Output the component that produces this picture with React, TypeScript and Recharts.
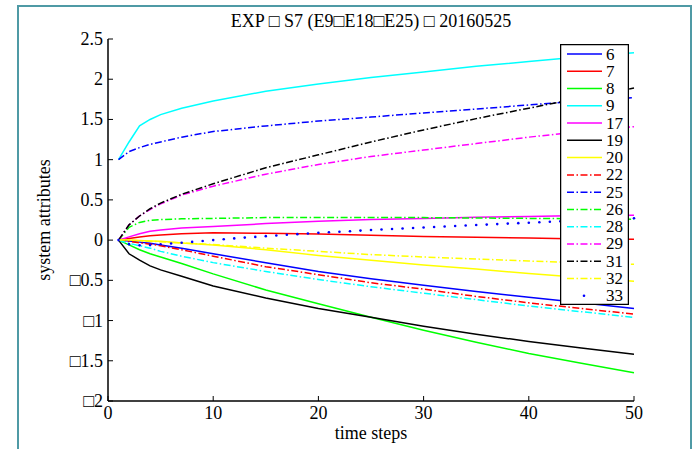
import { LineChart, Line, XAxis, YAxis, Legend } from "recharts";

const steps = [1, 2, 3, 4, 5, 7, 10, 15, 20, 25, 30, 35, 40, 45, 50];

const s6 = [0, -0.01, -0.025, -0.04, -0.06, -0.1, -0.17, -0.28, -0.39, -0.48, -0.56, -0.64, -0.71, -0.78, -0.85];
const s7 = [0, 0.02, 0.04, 0.055, 0.065, 0.08, 0.09, 0.085, 0.075, 0.06, 0.045, 0.035, 0.025, 0.015, 0.01];
const s8 = [0, -0.06, -0.12, -0.17, -0.21, -0.29, -0.42, -0.62, -0.79, -0.96, -1.12, -1.27, -1.41, -1.53, -1.65];
const s9 = [1.0, 1.22, 1.42, 1.5, 1.56, 1.64, 1.73, 1.85, 1.94, 2.02, 2.09, 2.16, 2.22, 2.28, 2.33];
const s17 = [0, 0.04, 0.08, 0.11, 0.125, 0.15, 0.17, 0.205, 0.235, 0.255, 0.27, 0.285, 0.295, 0.305, 0.31];
const s19 = [0, -0.17, -0.25, -0.32, -0.37, -0.45, -0.57, -0.72, -0.85, -0.96, -1.07, -1.17, -1.26, -1.34, -1.42];
const s20 = [0, 0, -0.005, -0.01, -0.015, -0.035, -0.06, -0.12, -0.19, -0.25, -0.31, -0.36, -0.415, -0.465, -0.51];
const s22 = [0, -0.015, -0.035, -0.05, -0.07, -0.12, -0.2, -0.33, -0.43, -0.53, -0.61, -0.7, -0.78, -0.85, -0.92];
const s25 = [1.0, 1.1, 1.15, 1.19, 1.22, 1.28, 1.35, 1.42, 1.48, 1.53, 1.58, 1.63, 1.68, 1.73, 1.77];
const s26 = [0, 0.16, 0.22, 0.245, 0.255, 0.265, 0.27, 0.28, 0.28, 0.28, 0.28, 0.275, 0.27, 0.265, 0.26];
const s28 = [0, -0.04, -0.07, -0.1, -0.14, -0.2, -0.28, -0.39, -0.49, -0.58, -0.66, -0.74, -0.82, -0.89, -0.96];
const s29 = [0, 0.19, 0.3, 0.38, 0.45, 0.56, 0.67, 0.82, 0.94, 1.04, 1.12, 1.2, 1.28, 1.35, 1.41];
const s31 = [0, 0.19, 0.3, 0.39, 0.46, 0.57, 0.7, 0.9, 1.06, 1.22, 1.37, 1.51, 1.64, 1.77, 1.89];
const s32 = [0, 0, -0.01, -0.015, -0.02, -0.035, -0.055, -0.1, -0.14, -0.18, -0.21, -0.235, -0.26, -0.28, -0.3];

// series 33 is plotted as dots at every step
const steps33 = Array.from({ length: 50 }, (_, i) => i + 1);
const s33 = [
  0, -0.05, -0.065, -0.062, -0.052, -0.042, -0.032, -0.022, -0.011, 0,
  0.011, 0.021, 0.031, 0.04, 0.049, 0.058, 0.066, 0.074, 0.082, 0.09,
  0.097, 0.104, 0.111, 0.118, 0.125, 0.131, 0.138, 0.144, 0.151, 0.157,
  0.163, 0.169, 0.175, 0.181, 0.187, 0.193, 0.199, 0.205, 0.211, 0.216,
  0.222, 0.228, 0.233, 0.239, 0.244, 0.25, 0.255, 0.26, 0.266, 0.271,
];

const xTicks = [0, 10, 20, 30, 40, 50];
const yTicks = [-2, -1.5, -1, -0.5, 0, 0.5, 1, 1.5, 2, 2.5];

const title = "EXP \u25A1 S7 (E9\u25A1E18\u25A1E25) \u25A1 20160525";

const DASHDOT = "7 2.5 1.5 2.5";

const series = [
  { key: "s6", name: "6", values: s6, color: "#0000FF", dash: undefined },
  { key: "s7", name: "7", values: s7, color: "#FF0000", dash: undefined },
  { key: "s8", name: "8", values: s8, color: "#00FF00", dash: undefined },
  { key: "s9", name: "9", values: s9, color: "#00FFFF", dash: undefined },
  { key: "s17", name: "17", values: s17, color: "#FF00FF", dash: undefined },
  { key: "s19", name: "19", values: s19, color: "#000000", dash: undefined },
  { key: "s20", name: "20", values: s20, color: "#FFFF00", dash: undefined },
  { key: "s22", name: "22", values: s22, color: "#FF0000", dash: DASHDOT },
  { key: "s25", name: "25", values: s25, color: "#0000FF", dash: DASHDOT },
  { key: "s26", name: "26", values: s26, color: "#00FF00", dash: DASHDOT },
  { key: "s28", name: "28", values: s28, color: "#00FFFF", dash: DASHDOT },
  { key: "s29", name: "29", values: s29, color: "#FF00FF", dash: DASHDOT },
  { key: "s31", name: "31", values: s31, color: "#000000", dash: DASHDOT },
  { key: "s32", name: "32", values: s32, color: "#FFFF00", dash: DASHDOT },
];

const rows = steps.map((x, i) => {
  const row: Record<string, number> = { x };
  series.forEach(s => (row[s.key] = s.values[i]));
  return row;
});
const dots33 = steps33.map((x, i) => ({ x, v: s33[i] }));

const FONT = "'Liberation Serif', 'Times New Roman', serif";
const TICK = 5;

const fmtY = (v: number) => (v < 0 ? "\u25A1" + Math.abs(v) : String(v));

function BottomTick({ x, y, payload }: any) {
  return (
    <g>
      <line x1={x} y1={y} x2={x} y2={y - TICK} stroke="#000" />
      <text x={x} y={y + 18} textAnchor="middle" fontSize={18} fontFamily={FONT} fill="#000">
        {payload.value}
      </text>
    </g>
  );
}

function LeftTick({ x, y, payload }: any) {
  return (
    <g>
      <line x1={x} y1={y} x2={x + TICK} y2={y} stroke="#000" />
      <text x={x - 5} y={y} textAnchor="end" dominantBaseline="central" fontSize={18} fontFamily={FONT} fill="#000">
        {fmtY(payload.value)}
      </text>
    </g>
  );
}

function TopTick({ x, y }: any) {
  return <line x1={x} y1={y} x2={x} y2={y + TICK} stroke="#000" />;
}

function RightTick({ x, y }: any) {
  return <line x1={x} y1={y} x2={x - TICK} y2={y} stroke="#000" />;
}

function LegendBox() {
  const rowH = 17.27;
  const all = [...series, { key: "s33", name: "33", color: "#0000FF", dash: "dots" }];
  return (
    <svg width={69} height={261} style={{ display: "block" }}>
      <rect x={0.5} y={0.5} width={68} height={260} fill="#fff" stroke="#000" strokeWidth={1.5} />
      {all.map((s, i) => {
        const cy = 10 + i * rowH;
        return (
          <g key={s.key}>
            {s.dash === "dots" ? (
              <circle cx={24} cy={cy} r={1.3} fill={s.color} />
            ) : (
              <line x1={7} x2={42} y1={cy} y2={cy} stroke={s.color} strokeWidth={1.5} strokeDasharray={s.dash} />
            )}
            <text x={46} y={cy} dominantBaseline="central" fontSize={17} fontFamily={FONT} fill="#000">
              {s.name}
            </text>
          </g>
        );
      })}
    </svg>
  );
}

export default function App() {
  return (
    <div style={{ position: "absolute", left: 0, top: 0, width: 700, height: 449, overflow: "hidden", background: "#fff" }}>
      <div
        style={{
          position: "absolute",
          left: 17,
          top: 5,
          width: 671,
          height: 470,
          border: "2px solid #4f9aa5",
        }}
      />
      <div
        style={{
          position: "absolute",
          left: 108,
          top: 10,
          width: 526,
          textAlign: "center",
          fontFamily: FONT,
          fontSize: 18,
          lineHeight: "22px",
        }}
      >
        {title}
      </div>
      <div style={{ position: "absolute", left: 0, top: 0 }}>
        <LineChart width={700} height={449} data={rows} margin={{ top: 39, right: 66, bottom: 0, left: 0 }}>
          <XAxis
            dataKey="x"
            type="number"
            domain={[0, 50]}
            ticks={xTicks}
            interval={0}
            height={48}
            tickSize={0}
            tickMargin={0}
            tick={<BottomTick />}
            axisLine={{ stroke: "#000", strokeWidth: 1.5 }}
            tickLine={false}
            label={{
              content: (p: any) => (
                <text
                  x={p.viewBox.x + p.viewBox.width / 2}
                  y={p.viewBox.y + 38}
                  textAnchor="middle"
                  fontSize={18}
                  fontFamily={FONT}
                  fill="#000"
                >
                  time steps
                </text>
              ),
            }}
          />
          <XAxis
            xAxisId="top"
            orientation="top"
            dataKey="x"
            type="number"
            domain={[0, 50]}
            ticks={xTicks}
            interval={0}
            height={0}
            tickSize={0}
            tickMargin={0}
            tick={<TopTick />}
            tickLine={false}
            axisLine={{ stroke: "#000", strokeWidth: 1.5 }}
          />
          <YAxis
            type="number"
            domain={[-2, 2.5]}
            ticks={yTicks}
            interval={0}
            width={108}
            tickSize={0}
            tickMargin={0}
            tick={<LeftTick />}
            tickLine={false}
            axisLine={{ stroke: "#000", strokeWidth: 1.5 }}
            label={{
              content: (p: any) => {
                const cx = p.viewBox.x + 44;
                const cy = p.viewBox.y + p.viewBox.height / 2;
                return (
                  <text
                    x={cx}
                    y={cy}
                    transform={`rotate(-90 ${cx} ${cy})`}
                    textAnchor="middle"
                    dominantBaseline="central"
                    fontSize={18}
                    fontFamily={FONT}
                    fill="#000"
                  >
                    system attributes
                  </text>
                );
              },
            }}
          />
          <YAxis
            yAxisId="right"
            orientation="right"
            type="number"
            domain={[-2, 2.5]}
            ticks={yTicks}
            interval={0}
            width={0}
            tickSize={0}
            tickMargin={0}
            tick={<RightTick />}
            tickLine={false}
            axisLine={{ stroke: "#000", strokeWidth: 1.5 }}
          />
          {series.map(s => (
            <Line
              key={s.key}
              dataKey={s.key}
              name={s.name}
              type="linear"
              stroke={s.color}
              strokeWidth={1.5}
              strokeDasharray={s.dash}
              dot={false}
              isAnimationActive={false}
            />
          ))}
          <Line
            data={dots33}
            dataKey="v"
            name="33"
            type="linear"
            stroke="none"
            dot={{ r: 1.3, fill: "#0000FF", stroke: "none" }}
            isAnimationActive={false}
          />
          <Legend
            layout="vertical"
            align="center"
            verticalAlign="middle"
            content={() => <LegendBox />}
            wrapperStyle={{ left: 560, top: 44, width: 69, height: 261 }}
          />
        </LineChart>
      </div>
    </div>
  );
}
